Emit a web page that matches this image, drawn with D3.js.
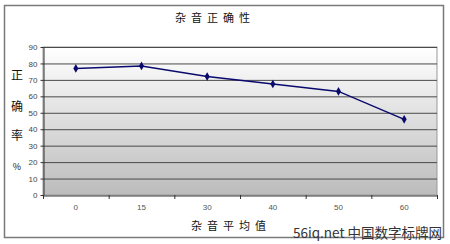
<!DOCTYPE html>
<html>
<head>
<meta charset="utf-8">
<script src="https://cdn.jsdelivr.net/npm/d3@7"></script>
<style>
  body { margin: 0; background: #fff; }
  text { font-family: "Liberation Sans", Arial, sans-serif; }
  .cjk { font-family: "Noto Sans CJK SC", sans-serif; }
</style>
</head>
<body>
<svg id="container"></svg>
<script>
// 杂音正确性 数据
const categories = ["0", "15", "30", "40", "50", "60"];
const values = [77, 78.5, 72, 67.5, 63, 46];
const yTicks = [0, 10, 20, 30, 40, 50, 60, 70, 80, 90];
const yTitle = ["正", "确", "率", "%"];

const width = 450;
const height = 244;

const svg = d3.select("#container")
    .attr("width", width)
    .attr("height", height);

const plot = { left: 43, right: 437, top: 47, bottom: 195 };

// outer frame
svg.append("rect")
    .attr("x", 4.5).attr("y", 5.5)
    .attr("width", 439).attr("height", 232)
    .attr("fill", "#fff")
    .attr("stroke", "#7a7a7a")
    .attr("stroke-width", 1.5);

const defs = svg.append("defs");
const grad = defs.append("linearGradient")
    .attr("id", "bg").attr("x1", 0).attr("y1", 0).attr("x2", 0).attr("y2", 1);
grad.append("stop").attr("offset", "0%").attr("stop-color", "#ffffff");
grad.append("stop").attr("offset", "100%").attr("stop-color", "#bcbcbc");

const x = d3.scaleBand()
    .domain(categories)
    .range([plot.left, plot.right]);

const y = d3.scaleLinear()
    .domain([0, 90])
    .range([plot.bottom, plot.top]);

svg.append("rect")
    .attr("x", plot.left).attr("y", plot.top)
    .attr("width", plot.right - plot.left)
    .attr("height", plot.bottom - plot.top)
    .attr("fill", "url(#bg)")
    .attr("stroke", "#999")
    .attr("stroke-width", 1);

// grid lines
svg.selectAll(".grid")
    .data(yTicks.slice(1))
    .enter().append("line")
    .attr("class", "grid")
    .attr("x1", plot.left).attr("x2", plot.right)
    .attr("y1", d => y(d) + 0.5).attr("y2", d => y(d) + 0.5)
    .attr("stroke", "#4a4a4a")
    .attr("stroke-width", 1);

// y axis
const yAxis = svg.append("g")
    .attr("transform", `translate(${plot.left + 0.5},0)`)
    .call(d3.axisLeft(y).tickValues(yTicks).tickSize(3).tickSizeOuter(0));
yAxis.select(".domain").attr("stroke", "#333");
yAxis.selectAll("line").attr("stroke", "#333");
yAxis.selectAll("text")
    .attr("font-size", 8)
    .attr("fill", "#444")
    .attr("x", -6);

// x axis
const xAxis = svg.append("g")
    .attr("transform", `translate(0,${plot.bottom + 0.5})`)
    .call(d3.axisBottom(x).tickSize(0).tickSizeOuter(0));
xAxis.select(".domain").attr("stroke", "#333");
xAxis.selectAll("text")
    .attr("font-size", 8)
    .attr("fill", "#555")
    .attr("dy", "0.71em")
    .attr("y", 9);

// tick marks at band boundaries
const bounds = categories.map(c => x(c)).concat([plot.right]);
svg.selectAll(".xtick")
    .data(bounds)
    .enter().append("line")
    .attr("class", "xtick")
    .attr("x1", d => d + 0.5).attr("x2", d => d + 0.5)
    .attr("y1", plot.bottom).attr("y2", plot.bottom + 4)
    .attr("stroke", "#333");

// line
const pts = categories.map((c, i) => [x(c) + x.bandwidth() / 2, y(values[i])]);
svg.append("path")
    .datum(pts)
    .attr("d", d3.line())
    .attr("fill", "none")
    .attr("stroke", "#0a0a6e")
    .attr("stroke-width", 1.5);

svg.selectAll(".pt")
    .data(pts)
    .enter().append("path")
    .attr("class", "pt")
    .attr("transform", d => `translate(${d[0]},${d[1]})`)
    .attr("d", d3.symbol().type(d3.symbolDiamond).size(22))
    .attr("fill", "#0a0a6e");

// title
svg.append("text")
    .attr("class", "cjk")
    .attr("x", 215).attr("y", 22)
    .attr("text-anchor", "middle")
    .attr("font-size", 11)
    .attr("letter-spacing", 5)
    .attr("fill", "#111")
    .text("杂音正确性");

svg.append("text")
    .attr("class", "cjk")
    .attr("x", 231).attr("y", 230)
    .attr("text-anchor", "middle")
    .attr("font-size", 11)
    .attr("letter-spacing", 5)
    .attr("fill", "#111")
    .text("杂音平均值");

svg.selectAll(".ytitle")
    .data(yTitle)
    .enter().append("text")
    .attr("class", "cjk")
    .attr("x", 17)
    .attr("y", (d, i) => [80, 111, 140, 170][i])
    .attr("text-anchor", "middle")
    .attr("font-size", d => d === "%" ? 9 : 12)
    .attr("fill", "#111")
    .text(d => d);

// watermark
svg.append("text")
    .attr("class", "cjk")
    .attr("x", 442).attr("y", 238)
    .attr("text-anchor", "end")
    .attr("font-size", 13.5)
    .attr("fill", "#333")
    .text("56iq.net 中国数字标牌网");
</script>
</body>
</html>
